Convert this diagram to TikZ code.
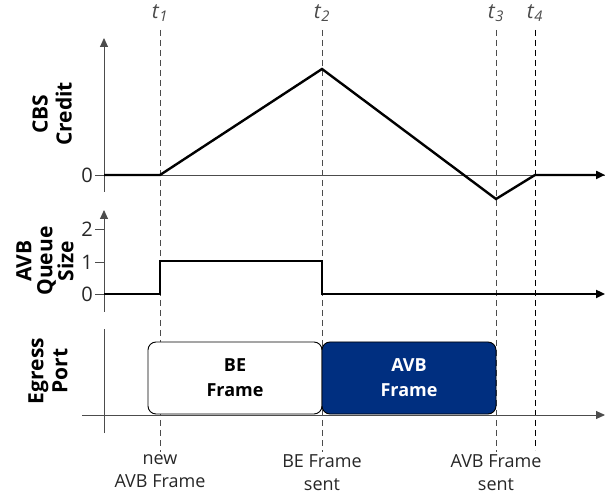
\documentclass[tikz,border=0pt]{standalone}
\usepackage{fontspec}
\setmainfont{Open Sans}
\usetikzlibrary{arrows.meta}
\definecolor{avbblue}{RGB}{0,47,128}
\begin{document}
\begin{tikzpicture}[x=1pt,y=-1pt,
  axis/.style={draw=black!70, line width=0.9pt},
  tip/.style={-{Triangle[length=9pt,width=8pt]}},
  signal/.style={draw=black, line width=2.4pt, line join=miter},
  timeline/.style={draw=black!70, line width=0.9pt, dash pattern=on 6pt off 4pt},
  tlabel/.style={font=\fontsize{21}{22}\selectfont, text=black!70},
  ticklbl/.style={font=\fontsize{20}{22}\selectfont, text=black!85, anchor=east, inner sep=1pt},
  note/.style={font=\fontsize{18}{23}\selectfont, align=center, text=black!85, anchor=north},
  ylbl/.style={font=\bfseries\fontsize{21}{24}\selectfont, align=center, rotate=90},
  framebox/.style={draw=black, line width=0.9pt, rounded corners=8pt,
    minimum width=174pt, minimum height=72pt, align=center,
    font=\bfseries\fontsize{18}{25}\selectfont}
]
\useasboundingbox (0,0) rectangle (605,502);

% time markers
\coordinate (t1top) at (160,30);  \coordinate (t1bot) at (160,452);
\coordinate (t2top) at (322,30);  \coordinate (t2bot) at (322,452);
\coordinate (t3top) at (496,30);  \coordinate (t3bot) at (496,452);
\coordinate (t4top) at (535,30);  \coordinate (t4bot) at (535,450);
\draw[timeline] (t1top) -- (t1bot);
\draw[timeline] (t2top) -- (t2bot);
\draw[timeline] (t3top) -- (t3bot);
\draw[timeline, draw=black] (t4top) -- (t4bot);
\node[tlabel] (lt1) at (160,13) {\textit{t}\textsubscript{\textit{1}}};
\node[tlabel] (lt2) at (322,13) {\textit{t}\textsubscript{\textit{2}}};
\node[tlabel] (lt3) at (496,13) {\textit{t}\textsubscript{\textit{3}}};
\node[tlabel] (lt4) at (535,13) {\textit{t}\textsubscript{\textit{4}}};

% ---- CBS credit ----
\coordinate (cy0) at (104,192); \coordinate (cy1) at (104,38);
\coordinate (cx0) at (95,175);  \coordinate (cx1) at (605,175);
\draw[axis] (cx0) -- (cx1);
\draw[axis,tip] (cy0) -- (cy1);
\node[ticklbl] (c0) at (94,175) {0};
\node[ylbl] (cbs) at (52,114) {CBS\\Credit};
\coordinate (c1) at (104,175);
\coordinate (c2) at (160,175);
\coordinate (c3) at (322,69);
\coordinate (c4) at (496,199);
\coordinate (c5) at (535,175);
\coordinate (c6) at (605,175);
\draw[signal,tip] (c1) -- (c2) -- (c3) -- (c4) -- (c5) -- (c6);

% ---- AVB queue size ----
\coordinate (qy0) at (104,312); \coordinate (qy1) at (104,210);
\coordinate (qx0) at (95,294);
\draw[axis,tip] (qy0) -- (qy1);
\draw[axis] (95,229) -- (104,229);
\draw[axis] (95,262) -- (104,262);
\draw[axis] (qx0) -- (104,294);
\node[ticklbl] (q2) at (94,229) {2};
\node[ticklbl] (q1) at (94,262) {1};
\node[ticklbl] (q0) at (94,294) {0};
\node[ylbl, font=\bfseries\fontsize{21}{21}\selectfont] (queue) at (45,261) {AVB\\Queue\\Size};
\coordinate (s1) at (104,294);
\coordinate (s2) at (160,294);
\coordinate (s3) at (160,261);
\coordinate (s4) at (322,261);
\coordinate (s5) at (322,294);
\coordinate (s6) at (605,294);
\draw[signal,tip] (s1) -- (s2) -- (s3) -- (s4) -- (s5) -- (s6);

% ---- egress port ----
\coordinate (ey0) at (104,433); \coordinate (ey1) at (104,329);
\coordinate (ex0) at (82,415);  \coordinate (ex1) at (605,415);
\draw[axis] (ey0) -- (ey1);
\draw[axis,tip] (ex0) -- (ex1);
\node[ylbl] (egress) at (48,371) {Egress\\Port};
\node[framebox, fill=white] (be) at (235,378) {BE\\Frame};
\node[framebox, fill=avbblue, text=white] (avb) at (409,378) {AVB\\Frame};

% ---- event notes ----
\node[note] (n1) at (160,451) {new\\AVB Frame};
\node[note] (n2) at (322,451) {BE Frame\\sent};
\node[note] (n3) at (496,451) {AVB Frame\\sent};
\end{tikzpicture}
\end{document}
